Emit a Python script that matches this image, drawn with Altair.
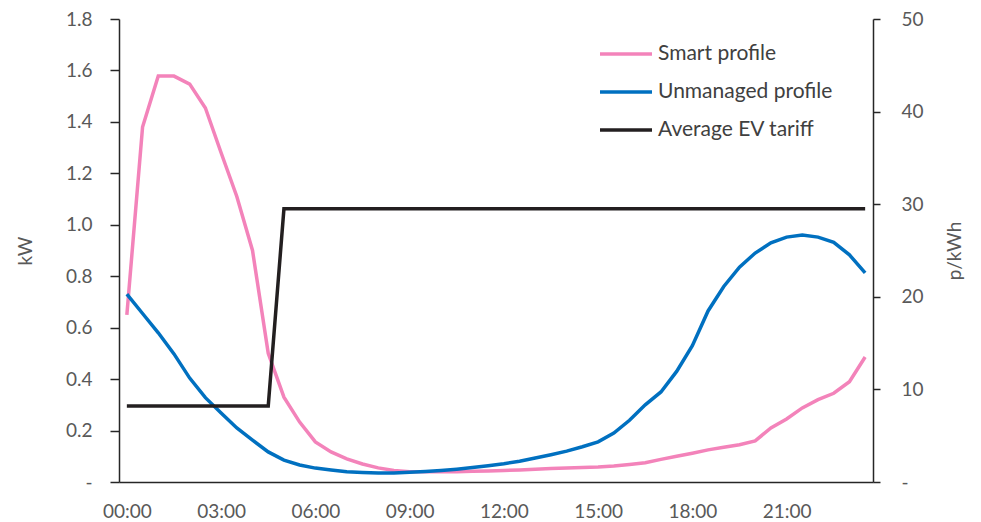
import altair as alt
import pandas as pd

# Half-hourly time slots across the day
times = [f"{h:02d}:{m:02d}" for h in range(24) for m in (0, 30)]

# Smart charging profile (kW)
smart_kw = [0.65, 1.38, 1.578, 1.578, 1.547, 1.454, 1.28, 1.11, 0.90, 0.50,
            0.33, 0.233, 0.156, 0.117, 0.09, 0.07, 0.055, 0.045, 0.04, 0.04,
            0.04, 0.04, 0.042, 0.043, 0.045, 0.047, 0.05, 0.052, 0.054, 0.056,
            0.058, 0.062, 0.068, 0.075, 0.088, 0.10, 0.112, 0.125, 0.135, 0.145,
            0.16, 0.21, 0.245, 0.288, 0.32, 0.345, 0.39, 0.486]

# Unmanaged charging profile (kW)
unmanaged_kw = [0.73, 0.655, 0.58, 0.498, 0.404, 0.328, 0.268, 0.21, 0.163, 0.117,
                0.085, 0.066, 0.054, 0.047, 0.04, 0.037, 0.035, 0.035, 0.038, 0.041,
                0.045, 0.05, 0.056, 0.063, 0.071, 0.081, 0.093, 0.106, 0.12, 0.137,
                0.156, 0.19, 0.24, 0.30, 0.35, 0.43, 0.53, 0.665, 0.76, 0.835,
                0.89, 0.93, 0.952, 0.96, 0.952, 0.932, 0.883, 0.813]

# Average EV tariff (p/kWh): off-peak rate until 04:30, then standard rate
tariff_p = [8.2] * 10 + [29.5] * 38

series_names = ["Smart profile", "Unmanaged profile", "Average EV tariff"]
series_colors = ["#F383BA", "#0070C0", "#231F20"]

tick_times = ["00:00", "03:00", "06:00", "09:00", "12:00", "15:00", "18:00", "21:00"]

profiles = pd.DataFrame({
    "time": times * 2,
    "order": list(range(48)) * 2,
    "kW": smart_kw + unmanaged_kw,
    "series": ["Smart profile"] * 48 + ["Unmanaged profile"] * 48,
})
tariff = pd.DataFrame({
    "time": times,
    "order": list(range(48)),
    "p": tariff_p,
    "series": ["Average EV tariff"] * 48,
})

FONT = "Lato"
FS = 19
LABEL_COLOR = "#595959"
AXIS_COLOR = "#262626"

x_enc = alt.X(
    "time:O",
    sort=times,
    scale=alt.Scale(type="point", padding=0.5),
    axis=alt.Axis(
        values=tick_times, title=None, ticks=False, labelAngle=0,
        labelPadding=20, labelFontSize=FS, labelColor=LABEL_COLOR, labelFont=FONT,
        domainColor=AXIS_COLOR, domainWidth=1.5, grid=False,
    ),
)

color_enc = alt.Color(
    "series:N",
    scale=alt.Scale(domain=series_names, range=series_colors),
    legend=alt.Legend(
        title=None, orient="none", legendX=479, legendY=7,
        symbolType="stroke", symbolSize=2704, symbolStrokeWidth=3.5,
        labelFontSize=21, labelFont=FONT, labelColor="#404040",
        labelOffset=4, labelLimit=400, rowPadding=-14,
    ),
)

left = alt.Chart(profiles).mark_line(strokeWidth=3.5).encode(
    x=x_enc,
    y=alt.Y(
        "kW:Q",
        scale=alt.Scale(domain=[0, 1.8], nice=False),
        axis=alt.Axis(
            values=[0, 0.2, 0.4, 0.6, 0.8, 1.0, 1.2, 1.4, 1.6, 1.8],
            labelExpr="datum.value == 0 ? '-' : format(datum.value, '.1f')",
            title="kW", titleFont=FONT, titleFontSize=FS, titleFontWeight="normal",
            titleColor=LABEL_COLOR, titlePadding=30,
            labelFontSize=FS, labelFont=FONT, labelColor=LABEL_COLOR, labelPadding=18,
            tickSize=9, tickColor=AXIS_COLOR, tickWidth=1.5,
            domainColor=AXIS_COLOR, domainWidth=1.5, grid=False,
        ),
    ),
    color=color_enc,
    order="order:Q",
)

right = alt.Chart(tariff).mark_line(strokeWidth=3.5).encode(
    x=x_enc,
    y=alt.Y(
        "p:Q",
        scale=alt.Scale(domain=[0, 50], nice=False),
        axis=alt.Axis(
            orient="right",
            values=[0, 10, 20, 30, 40, 50],
            labelExpr="datum.value == 0 ? '-' : datum.value",
            title="p/kWh", titleFont=FONT, titleFontSize=FS, titleFontWeight="normal",
            titleColor=LABEL_COLOR, titlePadding=41, titleAngle=270,
            labelFontSize=FS, labelFont=FONT, labelColor=LABEL_COLOR, labelPadding=21,
            tickSize=7, tickColor=AXIS_COLOR, tickWidth=1.5,
            domainColor=AXIS_COLOR, domainWidth=1.5, grid=False,
        ),
    ),
    color=color_enc,
    order="order:Q",
)

chart = (
    alt.layer(left, right)
    .resolve_scale(y="independent")
    .properties(
        width=754, height=463,
        autosize=alt.AutoSizeParams(type="none"),
        padding={"left": 119, "top": 19, "right": 108, "bottom": 40},
        background="white",
    )
    .configure_view(stroke=None)
)

chart.save("out.html", embed_options={"renderer": "svg", "actions": False})
